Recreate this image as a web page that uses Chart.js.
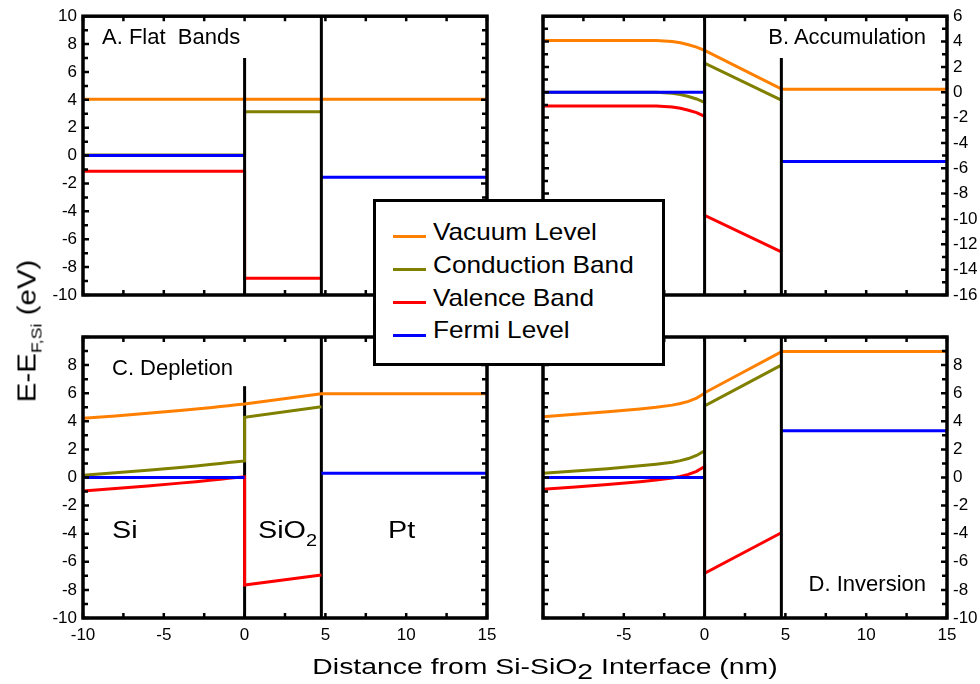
<!DOCTYPE html>
<html>
<head>
<meta charset="utf-8">
<script src="https://cdn.jsdelivr.net/npm/chart.js@4.4.0/dist/chart.umd.min.js"></script>
<style>
body { margin: 0; background: #fff; }
#fig { position: relative; width: 980px; height: 684px; overflow: hidden;
       font-family: "Liberation Sans", Arial, sans-serif; color: #000; }
#fig canvas { position: absolute; left: 0; top: 0; }
.txt { position: absolute; white-space: nowrap; line-height: 1; }
.muestra { position: absolute; left: 393px; width: 33px; height: 3px; }
#leyenda { position: absolute; left: 373px; top: 199px; width: 292px; height: 167px;
           box-sizing: border-box; border: 3px solid #000; background: #fff; }
</style>
</head>
<body>
<div id="fig">
  <canvas id="panelA" width="980" height="684"></canvas>
  <canvas id="panelB" width="980" height="684"></canvas>
  <canvas id="panelC" width="980" height="684"></canvas>
  <canvas id="panelD" width="980" height="684"></canvas>

  <div class="txt" style="left:102px; top:26px; font-size:22px">A. Flat&nbsp; Bands</div>
  <div class="txt" style="right:54px; top:26px; font-size:22px">B. Accumulation</div>
  <div class="txt" style="left:112px; top:357px; font-size:22px">C. Depletion</div>
  <div class="txt" style="right:54px; top:573px; font-size:22px">D. Inversion</div>

  <div class="txt" style="left:112px; top:519px; font-size:23px; transform:scaleX(1.25); transform-origin:left top">Si</div>
  <div class="txt" style="left:258px; top:519px; font-size:23px; transform:scaleX(1.25); transform-origin:left top">SiO<span style="font-size:16px; position:relative; top:8px">2</span></div>
  <div class="txt" style="left:388px; top:519px; font-size:23px; transform:scaleX(1.25); transform-origin:left top">Pt</div>

  <div id="leyenda"></div>
  <div class="muestra" style="top:235px; background:#ff8000"></div>
  <div class="muestra" style="top:268px; background:#808000"></div>
  <div class="muestra" style="top:301px; background:#ff0000"></div>
  <div class="muestra" style="top:334px; background:#0000ff"></div>
  <div class="txt" style="left:433px; top:220px; font-size:24px; transform:scaleX(1.09); transform-origin:left top">Vacuum Level</div>
  <div class="txt" style="left:433px; top:253px; font-size:24px; transform:scaleX(1.09); transform-origin:left top">Conduction Band</div>
  <div class="txt" style="left:433px; top:286px; font-size:24px; transform:scaleX(1.09); transform-origin:left top">Valence Band</div>
  <div class="txt" style="left:433px; top:318px; font-size:24px; transform:scaleX(1.09); transform-origin:left top">Fermi Level</div>

  <div class="txt" style="left:545px; top:656px; font-size:22px; transform:translateX(-50%) scaleX(1.29)">Distance from Si-SiO<span style="position:relative; top:5px">2</span> Interface (nm)</div>
  <div class="txt" style="left:27px; top:331px; font-size:25px; transform:translate(-50%,-50%) rotate(-90deg) scaleX(1.18)">E-E<span style="font-size:15px; position:relative; top:6px">F,Si</span> (eV)</div>
</div>

<script>
Chart.defaults.font.family = "Liberation Sans"
Chart.defaults.font.size = 17
Chart.defaults.color = "#000"

// espesor del oxido (nm) y posiciones x de todas las curvas
const tOx = 4.75
const xs = [-10, -8, -6, -4, -3, -2, -1.5, -1, -0.5, 0, 0, tOx, tOx, 15]

// A. Flat Bands
const vacA = [4.05, 4.05, 4.05, 4.05, 4.05, 4.05, 4.05, 4.05, 4.05, 4.05, 4.05, 4.05, 4.05, 4.05]
const cbA  = [0.05, 0.05, 0.05, 0.05, 0.05, 0.05, 0.05, 0.05, 0.05, 0.05, 3.14, 3.14, null, null]
const vbA  = [-1.12, -1.12, -1.12, -1.12, -1.12, -1.12, -1.12, -1.12, -1.12, -1.12, -8.79, -8.79, null, null]
const efA  = [0, 0, 0, 0, 0, 0, 0, 0, 0, 0, null, null, -1.55, -1.55]

// B. Accumulation
const vacB = [4.09, 4.09, 4.09, 4.09, 4.08, 4.01, 3.91, 3.75, 3.56, 3.3, 3.3, 0.27, 0.24, 0.24]
const cbB  = [0, 0, 0, 0, -0.01, -0.08, -0.18, -0.34, -0.53, -0.8, 2.3, -0.62, null, null]
const vbB  = [-1.08, -1.08, -1.08, -1.08, -1.09, -1.16, -1.26, -1.42, -1.61, -1.9, -9.71, -12.6, null, null]
const efB  = [0, 0, 0, 0, 0, 0, 0, 0, 0, 0, null, null, -5.47, -5.47]

// C. Depletion
const vacC = [4.21, 4.38, 4.57, 4.77, 4.87, 4.99, 5.05, 5.11, 5.17, 5.23, 5.23, 5.96, 5.96, 5.96]
const cbC  = [0.16, 0.33, 0.52, 0.72, 0.82, 0.94, 1.0, 1.06, 1.12, 1.18, 4.28, 5.04, null, null]
const vbC  = [-0.96, -0.79, -0.6, -0.4, -0.3, -0.18, -0.12, -0.06, 0, 0.04, -7.65, -6.94, null, null]
const efC  = [0, 0, 0, 0, 0, 0, 0, 0, 0, 0, null, null, 0.3, 0.3]

// D. Inversion
const vacD = [4.32, 4.5, 4.68, 4.88, 5.0, 5.15, 5.27, 5.42, 5.65, 6.0, 6.03, 8.95, 8.97, 8.97]
const cbD  = [0.3, 0.46, 0.63, 0.83, 0.95, 1.09, 1.2, 1.35, 1.57, 1.9, 5.1, 8.0, null, null]
const vbD  = [-0.84, -0.67, -0.5, -0.3, -0.18, -0.04, 0.07, 0.22, 0.44, 0.78, -6.82, -3.93, null, null]
const efD  = [0, 0, 0, 0, 0, 0, 0, 0, 0, 0, null, null, 3.32, 3.32]

// lineas negras de las interfaces: [x, y inicial, y final]
const divA = [[0, -10, 7], [tOx, -10, 10]]
const divB = [[0, -16, 6], [tOx, -16, 2.7]]
const divC = [[0, -10, 6.5], [tOx, -10, 10]]
const divD = [[0, -10, 10], [tOx, -10, 10]]

// rangos de los ejes
const rangoX = [-10, 15]
const rangoA = [-10, 10]
const rangoB = [-16, 6]
const rangoCD = [-10, 10]

// marco grueso y ticks hacia adentro en los cuatro lados
const marco = {
    id: "marco",
    afterDatasetsDraw(chart) {
        const { ctx, chartArea: a, scales: { x, y } } = chart
        ctx.save()
        ctx.strokeStyle = "#000"
        ctx.lineWidth = 2.5
        ctx.beginPath()
        for (let v = x.min; v <= x.max; v += 2.5) {
            let px = x.getPixelForValue(v)
            ctx.moveTo(px, a.bottom); ctx.lineTo(px, a.bottom - 5)
            ctx.moveTo(px, a.top); ctx.lineTo(px, a.top + 5)
        }
        for (let v = y.min; v <= y.max; v += 1) {
            let py = y.getPixelForValue(v)
            let L = v % 2 === 0 ? 6 : 5
            ctx.moveTo(a.left, py); ctx.lineTo(a.left + L, py)
            ctx.moveTo(a.right, py); ctx.lineTo(a.right - L, py)
        }
        ctx.stroke()
        ctx.lineWidth = 3.5
        ctx.strokeRect(a.left, a.top, a.right - a.left, a.bottom - a.top)
        ctx.restore()
    }
}

function serie(ys, color) {
    return {
        data: xs.map((x, i) => ({ x: x, y: ys[i] })),
        borderColor: color, borderWidth: 3, pointRadius: 0, tension: 0
    }
}

function divisor(d) {
    return {
        data: [{ x: d[0], y: d[1] }, { x: d[0], y: d[2] }],
        borderColor: "#000", borderWidth: 3, pointRadius: 0
    }
}

function crearPanel(id, vac, cb, vb, ef, divs, rangoY, cfg) {
    let bandas = [serie(ef, "#0000ff"), serie(vac, "#ff8000"), serie(cb, "#808000"), serie(vb, "#ff0000")]
    let negras = divs.map(divisor)
    let datasets = cfg.bandasArriba ? bandas.concat(negras) : negras.concat(bandas)
    let ctx = document.getElementById(id).getContext("2d")
    return new Chart(ctx, {
        type: "line",
        data: { datasets: datasets },
        options: {
            responsive: false,
            animation: false,
            devicePixelRatio: 1,
            layout: { padding: cfg.padding },
            plugins: { legend: { display: false }, tooltip: { enabled: false } },
            scales: {
                x: {
                    type: "linear", min: rangoX[0], max: rangoX[1],
                    display: cfg.verX,
                    grid: { display: false, drawTicks: false },
                    border: { display: false },
                    ticks: { stepSize: 5, padding: 7, autoSkip: false, maxRotation: 0,
                             callback: cfg.etiquetaX || (v => v) },
                    afterFit: s => { s.height = cfg.verX ? 30 : 0 }
                },
                y: {
                    type: "linear", position: cfg.ladoY, min: rangoY[0], max: rangoY[1],
                    grid: { display: false, drawTicks: false },
                    border: { display: false },
                    ticks: { stepSize: 2, padding: 6, autoSkip: false,
                             callback: cfg.etiquetaY || (v => v) },
                    afterFit: s => { s.width = cfg.ladoY == "left" ? 40 : 33 }
                }
            }
        },
        plugins: [marco]
    })
}

crearPanel("panelA", vacA, cbA, vbA, efA, divA, rangoA, {
    padding: { left: 43, right: 493, top: 15, bottom: 389 }, ladoY: "left", verX: false
})
crearPanel("panelB", vacB, cbB, vbB, efB, divB, rangoB, {
    padding: { left: 543, right: 0, top: 15, bottom: 389 }, ladoY: "right", verX: false
})
crearPanel("panelC", vacC, cbC, vbC, efC, divC, rangoCD, {
    padding: { left: 43, right: 493, top: 337, bottom: 36 }, ladoY: "left", verX: true,
    bandasArriba: true,
    etiquetaY: v => v === 10 ? "" : v
})
crearPanel("panelD", vacD, cbD, vbD, efD, divD, rangoCD, {
    padding: { left: 543, right: 0, top: 337, bottom: 36 }, ladoY: "right", verX: true,
    etiquetaY: v => v === 10 ? "" : v,
    etiquetaX: v => v === -10 ? "" : v
})
</script>
</body>
</html>
